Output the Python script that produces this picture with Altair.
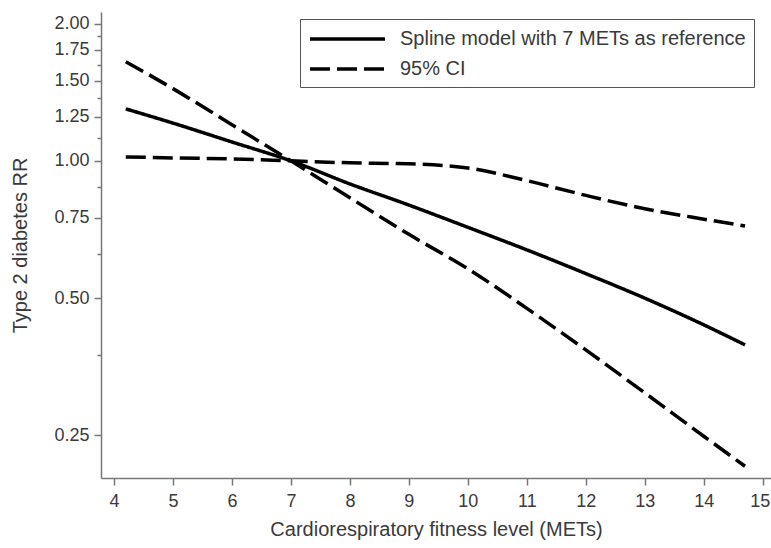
import altair as alt
import pandas as pd

# ---- data ----
mets = [4.2, 5, 6, 7, 8, 9, 10, 11, 12, 13, 14, 14.7]
rr_spline = [1.30, 1.21, 1.10, 1.00, 0.89, 0.80, 0.715, 0.638, 0.566, 0.50, 0.437, 0.395]
rr_ci_steep = [1.65, 1.44, 1.20, 1.00, 0.83, 0.69, 0.58, 0.475, 0.385, 0.31, 0.249, 0.214]
rr_ci_flat = [1.02, 1.015, 1.01, 1.00, 0.99, 0.985, 0.965, 0.905, 0.84, 0.785, 0.745, 0.72]

y_major = [0.25, 0.5, 0.75, 1.0, 1.25, 1.5, 1.75, 2.0]
y_minor = [0.375, 0.625, 0.875, 1.125, 1.375, 1.625, 1.875]
x_ticks = [4, 5, 6, 7, 8, 9, 10, 11, 12, 13, 14, 15]

SPLINE = "Spline model with 7 METs as reference"
CI = "95% CI"

rows = []
for curve, kind, vals in [("spline", SPLINE, rr_spline),
                          ("ci_steep", CI, rr_ci_steep),
                          ("ci_flat", CI, rr_ci_flat)]:
    for x, v in zip(mets, vals):
        rows.append({"mets": x, "rr": v, "curve": curve, "kind": kind})
df = pd.DataFrame(rows)

major_js = "[" + ",".join(repr(v) for v in y_major) + "]"
FONT = "Liberation Sans"
TXT = "#3a3a3a"
AX = "#777777"

chart = alt.Chart(df).mark_line(color="black", strokeWidth=3.5, interpolate="monotone").encode(
    x=alt.X(
        "mets:Q",
        scale=alt.Scale(domain=[3.78, 15.14], nice=False, zero=False),
        axis=alt.Axis(
            values=x_ticks,
            title="Cardiorespiratory fitness level (METs)",
            grid=False,
            tickSize=7,
            labelPadding=7,
            titlePadding=9,
            labelFlush=False,
            labelOverlap=False,
            labelOffset={"condition": {"test": f"datum.value == {x_ticks[-1]}", "value": -3}, "value": 0},
        ),
    ),
    y=alt.Y(
        "rr:Q",
        scale=alt.Scale(type="log", domain=[0.2017, 2.12], nice=False),
        axis=alt.Axis(
            values=y_major + y_minor,
            labelExpr=f"indexof({major_js}, datum.value) >= 0 ? format(datum.value, '.2f') : ''",
            tickSize={"condition": {"test": f"indexof({major_js}, datum.value) >= 0", "value": 7}, "value": 4},
            title="Type 2 diabetes RR",
            grid=False,
            labelPadding=5,
            titlePadding=23,
            labelFlush=False,
            labelOverlap=False,
        ),
    ),
    strokeDash=alt.StrokeDash(
        "kind:N",
        scale=alt.Scale(domain=[SPLINE, CI], range=[[1, 0], [20, 7]]),
        legend=alt.Legend(
            title=None,
            orient="none",
            legendX=199,
            legendY=7,
            padding=8,
            strokeColor="#555555",
            fillColor="white",
            symbolType="M-1,0H6.5",
            symbolSize=400,
            symbolStrokeWidth=3.5,
            symbolStrokeColor="black",
            labelFontSize=20,
            labelFont=FONT,
            labelColor=TXT,
            labelOffset=68,
            labelLimit=0,
            rowPadding=8,
        ),
    ),
    detail="curve:N",
).properties(
    width=670,
    height=466,
    padding={"left": 101, "top": 12, "right": 0, "bottom": 70},
    autosize=alt.AutoSizeParams(type="none"),
).configure_view(
    stroke=None
).configure_axis(
    domainColor=AX,
    domainWidth=1.5,
    tickColor=AX,
    tickWidth=1.5,
    labelColor=TXT,
    labelFont=FONT,
    labelFontSize=18,
    titleFont=FONT,
    titleFontSize=20,
    titleFontWeight="normal",
    titleColor=TXT,
)

chart.save("out.html", embed_options={"renderer": "svg", "actions": False})
